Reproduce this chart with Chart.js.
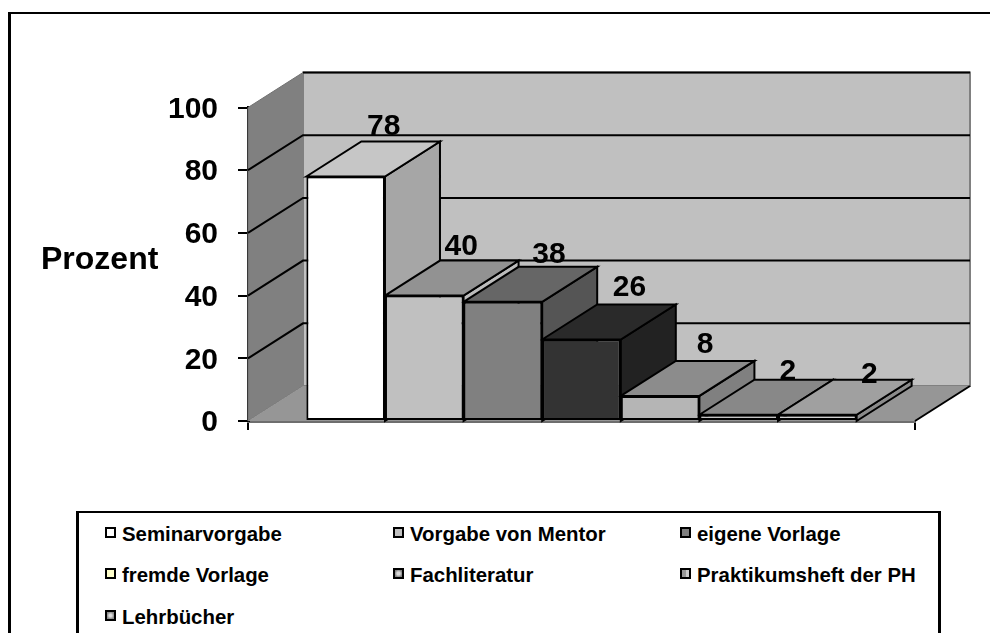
<!DOCTYPE html>
<html><head><meta charset="utf-8">
<script src="https://cdn.jsdelivr.net/npm/chart.js@4"></script>
<style>
html,body{margin:0;padding:0;background:#fff;overflow:hidden}
#wrap{position:relative;width:990px;height:633px;overflow:hidden}
#frame{position:absolute;left:8px;top:12px;width:1100px;height:700px;border-left:3px solid #000;border-top:2px solid #000}
canvas{position:absolute;left:0;top:0}
#legend{position:absolute;left:76px;top:511px;width:859px;height:200px;border:3px solid #000;border-top-width:2px;background:#fff;font:bold 20.4px "Liberation Sans",Arial,sans-serif;color:#000}
#legend div.i{position:absolute;white-space:nowrap;line-height:24px;height:24px}
#legend span.k{display:block;position:absolute;left:0;top:5px;width:7px;height:7px;border:2.5px solid #000}
#legend span.t{position:absolute;left:17px;top:0}
</style></head>
<body><div id="wrap"><div id="frame"></div><canvas id="c" width="990" height="633"></canvas><div id="legend"></div></div>
<script>
const categories = [""];
const seriesNames = ["Seminarvorgabe","Vorgabe von Mentor","eigene Vorlage","fremde Vorlage","Fachliteratur","Praktikumsheft der PH","Lehrbücher"];
const seriesValues = [78,40,38,26,8,2,2];
const tickLabels = [0,20,40,60,80,100];
const axisTitle = "Prozent";
const frontColors = ["#ffffff","#c0c0c0","#808080","#333333","#b5b5b5","#c4c4c4","#d0d0d0"];
const topColors = ["#c6c6c6","#929292","#666666","#2a2a2a","#8c8c8c","#888888","#a0a0a0"];
const sideColors = ["#a6a6a6","#bcbcbc","#555555","#222222","#808080","#808080","#8a8a8a"];
const legendSwatches = ["#ffffff","#c0c0c0","#808080","#ffffcc",
  "radial-gradient(circle,#d8d8d8 30%,#808080 75%)",
  "linear-gradient(90deg,#999 50%,#ccc 50%)",
  "radial-gradient(circle,#dddddd 25%,#8c8c8c 70%)"];
const labelNudgeX = [38,37,46,48,45,49,52];
const labelNudgeY = [-6,-6,-4,-8,-8,0,3];
const DX = 55, DY = 35;
const FONT = 'bold 30px "Liberation Sans",Arial,sans-serif';
const TITLE_FONT = 'bold 32px "Liberation Sans",Arial,sans-serif';

function poly(ctx, pts, fill, stroke, lw){
  ctx.beginPath(); ctx.moveTo(pts[0][0],pts[0][1]);
  for(let i=1;i<pts.length;i++) ctx.lineTo(pts[i][0],pts[i][1]);
  ctx.closePath();
  if(fill){ctx.fillStyle=fill;ctx.fill();}
  if(stroke){ctx.strokeStyle=stroke;ctx.lineWidth=lw;ctx.lineJoin='miter';ctx.stroke();}
}
const threeD = {
  id:'threeD',
  beforeDatasetsDraw(chart){
    const {ctx,chartArea:a,scales:{y}}=chart;
    ctx.save();
    poly(ctx,[[a.left,a.bottom],[a.left,a.top],[a.left+DX,a.top-DY],[a.left+DX,a.bottom-DY]],'#808080','#707070',1);
    poly(ctx,[[a.left+DX,a.top-DY],[a.right+DX,a.top-DY],[a.right+DX,a.bottom-DY],[a.left+DX,a.bottom-DY]],'#c0c0c0','#808080',2);
    poly(ctx,[[a.left,a.bottom],[a.right,a.bottom],[a.right+DX,a.bottom-DY],[a.left+DX,a.bottom-DY]],'#969696',null,0);
    ctx.strokeStyle='#000';ctx.lineWidth=2;
    y.ticks.forEach(t=>{
      if(t.value===0) return;
      const p=y.getPixelForValue(t.value);
      ctx.beginPath();
      if(t.value===y.max){ctx.moveTo(a.left+DX,p-DY);}
      else{ctx.moveTo(a.left,p);ctx.lineTo(a.left+DX,p-DY);}
      ctx.lineTo(a.right+DX,p-DY);ctx.stroke();
    });
    ctx.beginPath();ctx.moveTo(a.right,a.bottom);ctx.lineTo(a.right+DX,a.bottom-DY);ctx.stroke();
    chart.data.datasets.forEach((ds,i)=>{
      const b=chart.getDatasetMeta(i).data[0];
      const l=b.x-b.width/2,r=b.x+b.width/2,t=b.y,bo=a.bottom;
      poly(ctx,[[r,t],[r+DX,t-DY],[r+DX,bo-DY],[r,bo]],sideColors[i],'#000',2);
      poly(ctx,[[l,t],[l+DX,t-DY],[r+DX,t-DY],[r,t]],topColors[i],'#000',2);
    });
    ctx.restore();
  },
  afterDraw(chart){
    const {ctx}=chart;
    ctx.save();
    ctx.fillStyle='#000';ctx.font=FONT;ctx.textAlign='center';ctx.textBaseline='alphabetic';
    chart.data.datasets.forEach((ds,i)=>{
      const b=chart.getDatasetMeta(i).data[0];
      ctx.fillText(String(ds.data[0]),b.x+labelNudgeX[i],b.y-DY+labelNudgeY[i]);
    });
    ctx.textAlign='left';ctx.font=TITLE_FONT;
    ctx.fillText(axisTitle,41,269);
    ctx.restore();
  }
};

const chart = new Chart(document.getElementById('c'),{
  type:'bar',
  data:{labels:categories,datasets:seriesNames.map((n,i)=>({
    label:n,data:[seriesValues[i]],backgroundColor:frontColors[i],borderColor:'#000',borderWidth:2,borderSkipped:false,
    barPercentage:1,categoryPercentage:0.825
  }))},
  options:{
    responsive:false,animation:false,
    layout:{padding:{left:0,right:75,top:107.5,bottom:212}},
    plugins:{legend:{display:false},tooltip:{enabled:false},title:{display:false}},
    scales:{
      x:{offset:true,grid:{offset:true,drawOnChartArea:false,drawTicks:true,tickLength:9,color:'#000',lineWidth:2},
         border:{color:'#6e6e6e',width:3},ticks:{display:false},afterFit(s){s.height=0;}},
      y:{min:0,max:100,afterBuildTicks(s){s.ticks=tickLabels.map(v=>({value:v}));},
         grid:{drawOnChartArea:false,drawTicks:true,tickLength:10,color:'#000',lineWidth:2},
         border:{color:'#000',width:3},
         ticks:{color:'#000',font:{family:'"Liberation Sans",Arial,sans-serif',weight:'bold',size:30},padding:20,labelOffset:2},
         afterFit(s){s.width=248;}}
    }
  },
  plugins:[threeD]
});

const legendEl=document.getElementById('legend');
const colX=[26,314,601], rowY=[9,50,92];
chart.data.datasets.forEach((ds,i)=>{
  const d=document.createElement('div');d.className='i';
  d.style.left=colX[i%3]+'px';d.style.top=rowY[Math.floor(i/3)]+'px';
  const k=document.createElement('span');k.className='k';k.style.background=legendSwatches[i];
  const t=document.createElement('span');t.className='t';t.textContent=ds.label;
  d.appendChild(k);d.appendChild(t);legendEl.appendChild(d);
});
</script></body></html>
